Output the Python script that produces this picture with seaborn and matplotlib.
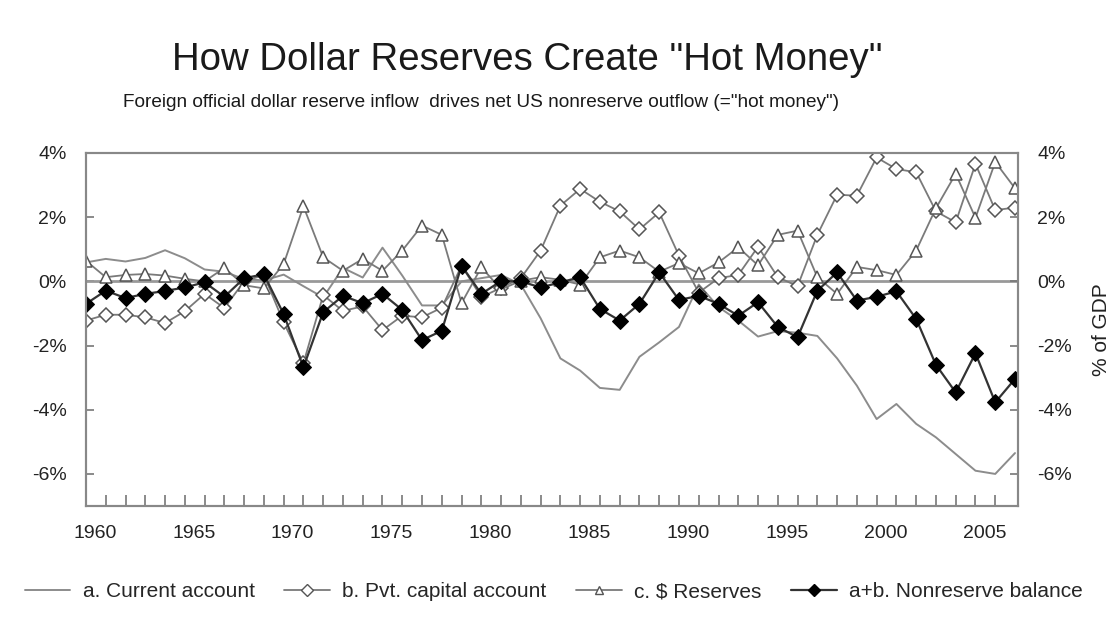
import numpy as np
import pandas as pd
import seaborn as sns
import matplotlib.pyplot as plt
from matplotlib.lines import Line2D

years = list(range(1960, 2008))

# a. current account, % of GDP
current_account = [0.59, 0.70, 0.62, 0.73, 0.97, 0.72, 0.37, 0.30, 0.07, 0.03,
                   0.21, -0.15, -0.50, 0.42, 0.12, 1.05, 0.18, -0.75, -0.75, 0.00,
                   0.10, 0.20, -0.10, -1.15, -2.40, -2.78, -3.32, -3.38, -2.35, -1.90,
                   -1.42, -0.10, -0.80, -1.22, -1.72, -1.55, -1.60, -1.70, -2.40, -3.25,
                   -4.29, -3.82, -4.44, -4.86, -5.38, -5.90, -6.00, -5.35]
# b. private capital account
pvt_capital = [-1.22, -1.04, -1.04, -1.12, -1.30, -0.93, -0.39, -0.83, 0.00, 0.20,
               -1.28, -2.55, -0.43, -0.92, -0.78, -1.52, -1.07, -1.12, -0.82, 0.49,
               -0.49, -0.20, 0.10, 0.96, 2.36, 2.88, 2.48, 2.18, 1.62, 2.15,
               0.80, -0.35, 0.10, 0.20, 1.08, 0.13, -0.15, 1.45, 2.70, 2.67,
               3.86, 3.50, 3.40, 2.18, 1.84, 3.66, 2.22, 2.30]
# c. foreign official dollar reserves
reserves = [0.64, 0.13, 0.20, 0.23, 0.18, 0.08, 0.00, 0.42, -0.12, -0.22,
            0.54, 2.34, 0.75, 0.33, 0.70, 0.33, 0.96, 1.74, 1.45, -0.68,
            0.44, -0.25, 0.02, 0.13, 0.05, -0.10, 0.75, 0.96, 0.75, 0.30,
            0.57, 0.25, 0.59, 1.06, 0.50, 1.45, 1.58, 0.13, -0.39, 0.45,
            0.35, 0.20, 0.96, 2.28, 3.35, 1.98, 3.72, 2.90]
# a+b. nonreserve balance
nonreserve = [-0.70, -0.29, -0.52, -0.39, -0.30, -0.19, -0.03, -0.48, 0.10, 0.22,
              -1.02, -2.68, -0.96, -0.45, -0.68, -0.39, -0.89, -1.83, -1.54, 0.49,
              -0.39, 0.01, 0.00, -0.19, -0.03, 0.13, -0.86, -1.22, -0.70, 0.28,
              -0.58, -0.45, -0.70, -1.07, -0.65, -1.42, -1.74, -0.29, 0.28, -0.60,
              -0.48, -0.31, -1.17, -2.60, -3.46, -2.24, -3.77, -3.04]

labels = ['a. Current account', 'b. Pvt. capital account',
          r'c. \$ Reserves', 'a+b. Nonreserve balance']
tick_years = list(range(1960, 2006, 5))
pct_ticks = [4, 2, 0, -2, -4, -6]

df = pd.DataFrame({'year': years, 'ca': current_account, 'pvt': pvt_capital,
                   'res': reserves, 'nonres': nonreserve})

sns.set_style('white')
plt.rcParams['font.family'] = ['Liberation Sans', 'DejaVu Sans']

fig = plt.figure(figsize=(11.14, 6.33), dpi=100)
ax = fig.add_axes([0.0772, 0.2006, 0.8366, 0.5577])

ax.axhline(0, color='#999999', lw=2, zorder=1)

sns.lineplot(x='year', y='ca', data=df, ax=ax, color='#8c8c8c', lw=1.4, zorder=2)
sns.lineplot(x='year', y='pvt', data=df, ax=ax, color='#7a7a7a', lw=1.3, marker='D',
             markersize=7.5, markerfacecolor='white', markeredgecolor='#555555',
             markeredgewidth=1.1, zorder=3)
sns.lineplot(x='year', y='res', data=df, ax=ax, color='#7a7a7a', lw=1.3, marker='^',
             markersize=8.5, markerfacecolor='white', markeredgecolor='#555555',
             markeredgewidth=1.1, zorder=4)
sns.lineplot(x='year', y='nonres', data=df, ax=ax, color='#333333', lw=1.6, marker='D',
             markersize=8, markerfacecolor='black', markeredgecolor='black', zorder=5)

ax.set_xlim(1960, 2007.15)
ax.set_ylim(-7, 4)
ax.set_xlabel('')
ax.set_ylabel('')

# year labels sit a little right of the year in the original
ax.set_xticks([y + 0.45 for y in tick_years])
ax.set_xticklabels([str(y) for y in tick_years], fontsize=14, color='#222222')
ax.tick_params(axis='x', which='major', length=0, pad=14)
ax.set_xticks(range(1961, 2007), minor=True)
ax.tick_params(axis='x', which='minor', direction='in', length=8, width=1.2,
               color='#777777', bottom=True)

ax.set_yticks(pct_ticks)
ax.set_yticklabels([f'{v}%' for v in pct_ticks], fontsize=14, color='#222222')
ax.tick_params(axis='y', direction='in', length=6, width=1.2, color='#777777', pad=14,
               left=True)

ax2 = ax.twinx()
ax2.set_ylim(-7, 4)
ax2.set_yticks(pct_ticks)
ax2.set_yticklabels([f'{v}%' for v in pct_ticks], fontsize=14, color='#222222')
ax2.tick_params(axis='y', direction='in', length=6, width=1.2, color='#777777', pad=14,
                right=True)
ax2.set_ylabel('% of GDP', fontsize=15, color='#222222', labelpad=14)

for a in (ax, ax2):
    for s in a.spines.values():
        s.set_color('#888888')
        s.set_linewidth(1.5)

fig.text(0.4735, 0.905, 'How Dollar Reserves Create "Hot Money"', ha='center',
         va='center', fontsize=27.6, color='#1a1a1a')
fig.text(0.432, 0.838, 'Foreign official dollar reserve inflow  drives net US nonreserve outflow (="hot money")',
         ha='center', va='center', fontsize=13.7, color='#1a1a1a')

handles = [
    Line2D([], [], color='#8c8c8c', lw=1.4),
    Line2D([], [], color='#7a7a7a', lw=1.3, marker='D', markersize=6,
           markerfacecolor='white', markeredgecolor='#555555'),
    Line2D([], [], color='#7a7a7a', lw=1.3, marker='^', markersize=6,
           markerfacecolor='white', markeredgecolor='#555555'),
    Line2D([], [], color='#333333', lw=1.6, marker='D', markersize=6,
           markerfacecolor='black', markeredgecolor='black'),
]
fig.legend(handles, labels, loc='center', bbox_to_anchor=(0.497, 0.065), ncol=4,
           frameon=False, fontsize=15, handlelength=2.2, columnspacing=1.4,
           handletextpad=0.6)

fig.savefig('out.png', dpi=100)
